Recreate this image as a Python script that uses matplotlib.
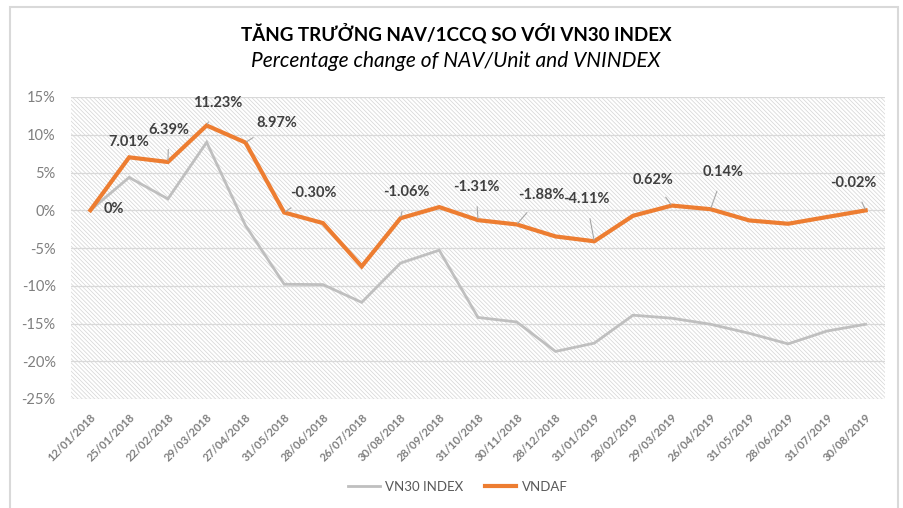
import matplotlib
matplotlib.use("Agg")
import matplotlib.pyplot as plt
from matplotlib.patches import Rectangle
from matplotlib.ticker import FuncFormatter, MultipleLocator

plt.rcParams['font.family'] = ['Lato', 'DejaVu Sans']
plt.rcParams['hatch.linewidth'] = 0.5

dates = ["12/01/2018", "25/01/2018", "22/02/2018", "29/03/2018", "27/04/2018",
         "31/05/2018", "28/06/2018", "26/07/2018", "30/08/2018", "28/09/2018",
         "31/10/2018", "30/11/2018", "28/12/2018", "31/01/2019", "28/02/2019",
         "29/03/2019", "26/04/2019", "31/05/2019", "28/06/2019", "31/07/2019",
         "30/08/2019"]
vn30 = [0.0, 4.35, 1.5, 9.0, -2.0, -9.8, -9.85, -12.2, -7.0, -5.3,
        -14.2, -14.8, -18.7, -17.6, -13.9, -14.3, -15.1, -16.3, -17.7, -16.0, -15.1]
vndaf = [0.0, 7.01, 6.39, 11.23, 8.97, -0.30, -1.7, -7.44, -1.06, 0.42,
         -1.31, -1.88, -3.47, -4.11, -0.73, 0.62, 0.14, -1.35, -1.79, -0.9, -0.02]
# data labels: (index, text, dx px, dy px, leader)
labels = [(0, "0%", 23, 1, False), (1, "7.01%", 0, 15, False), (2, "6.39%", 1, 32, True),
          (3, "11.23%", 11, 22, True), (4, "8.97%", 31, 20, True), (5, "-0.30%", 29, 20, True),
          (8, "-1.06%", 6, 26, True), (10, "-1.31%", -2, 33, True), (11, "-1.88%", 25, 29, True),
          (13, "-4.11%", -8, 42, True), (15, "0.62%", -19, 26, True), (16, "0.14%", 13, 37, True),
          (20, "-0.02%", -12, 27, True)]

W, H = 904, 508
fig = plt.figure(figsize=(W / 100, H / 100), dpi=100)
fig.patch.set_facecolor('white')
fig.patches.append(Rectangle((10 / W, -0.05), 888 / W, 1.05 - 7 / H, transform=fig.transFigure,
                             facecolor='none', edgecolor='#D9D9D9', lw=1.5))

ax = fig.add_axes([71 / W, 1 - 399 / H, 814 / W, 302 / H])
ax.add_patch(Rectangle((0, 0), 1, 1, transform=ax.transAxes, facecolor='white',
                       edgecolor='#D4D4D4', hatch='\\' * 8, lw=0, zorder=0))
x = list(range(len(dates)))
ax.plot(x, vn30, color='#BFBFBF', lw=2.0, label='VN30 INDEX', zorder=3, solid_joinstyle='miter')
ax.plot(x, vndaf, color='#ED7D31', lw=3.0, label='VNDAF', zorder=4, solid_joinstyle='miter')

ax.set_xlim(-0.5, len(dates) - 0.5)
ax.set_ylim(-25, 15)
ax.yaxis.set_major_locator(MultipleLocator(5))
ax.yaxis.set_major_formatter(FuncFormatter(lambda v, p: f"{v:.0f}%"))
ax.grid(axis='y', color='#D9D9D9', lw=0.9, zorder=1)
ax.set_axisbelow(True)
for s in ax.spines.values():
    s.set_visible(False)
ax.set_xticks(x)
ax.set_xticklabels(dates, rotation=45, ha='right', rotation_mode='anchor',
                   fontsize=8, fontweight='bold', color='#7F7F7F')
ax.tick_params(axis='x', length=0, pad=9)
ax.tick_params(axis='y', length=0, pad=11, labelsize=10.5, labelcolor='#7F7F7F')

for i, txt, dx, dy, leader in labels:
    ax.annotate(txt, xy=(i, vndaf[i]), xytext=(dx * 0.72, dy * 0.72), textcoords='offset points',
                ha='center', va='center', fontsize=10.5, fontweight='bold', color='#404040',
                zorder=6,
                arrowprops=(dict(arrowstyle='-', color='#A6A6A6', lw=0.8, shrinkA=7, shrinkB=1)
                            if leader else None))

fig.text(456 / W, 1 - 33 / H, "TĂNG TRƯỞNG NAV/1CCQ SO VỚI VN30 INDEX", ha='center', va='center',
         fontsize=13.5, fontweight='bold', color='black')
fig.text(456 / W, 1 - 61 / H, "Percentage change of NAV/Unit and VNINDEX", ha='center', va='center',
         fontsize=15, style='italic', color='black')

fig.legend(loc='center', bbox_to_anchor=(458 / W, 1 - 487 / H), ncol=2, frameon=False,
           fontsize=9.5, labelcolor='#595959', handlelength=2.4, columnspacing=1.6, handletextpad=0.4)

fig.savefig('out.png', dpi=100)
